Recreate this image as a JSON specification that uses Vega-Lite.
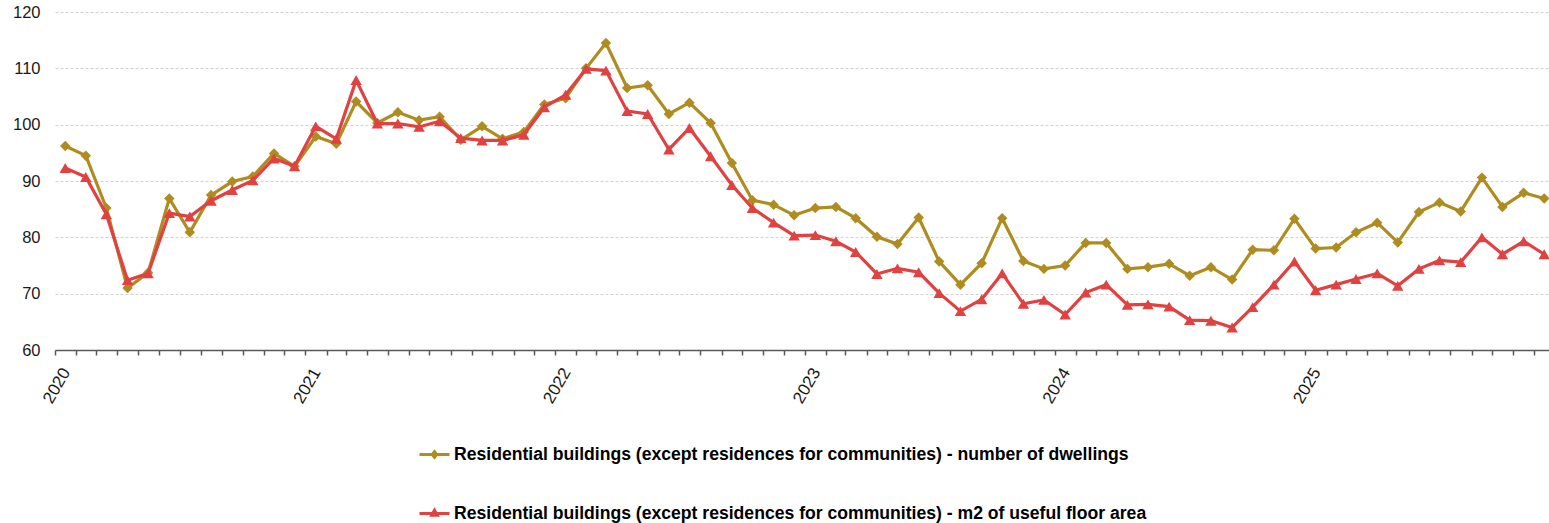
{
  "$schema": "https://vega.github.io/schema/vega-lite/v6.json",
  "autosize": "none",
  "width": 1494,
  "height": 338,
  "padding": {"left": 55, "top": 12, "right": 0, "bottom": 173},
  "background": "white",
  "config": {
    "view": {"stroke": null},
    "font": "Liberation Sans",
    "legend": {
      "orient": "none",
      "title": null,
      "labelFont": "Liberation Sans",
      "labelFontWeight": "bold",
      "labelFontSize": 17.6,
      "labelColor": "#000000",
      "labelLimit": 1200,
      "labelOffset": 3,
      "symbolSize": 900,
      "symbolStrokeWidth": 3,
      "symbolOpacity": 1
    }
  },
  "data": {
    "values": [
      {"date": "2020-01-16", "dwellings": 96.2, "m2": 92.3},
      {"date": "2020-02-15", "dwellings": 94.5, "m2": 90.7},
      {"date": "2020-03-16", "dwellings": 85.2, "m2": 84.1},
      {"date": "2020-04-16", "dwellings": 71.0, "m2": 72.4},
      {"date": "2020-05-16", "dwellings": 73.7, "m2": 73.6},
      {"date": "2020-06-16", "dwellings": 86.9, "m2": 84.3},
      {"date": "2020-07-16", "dwellings": 80.9, "m2": 83.7},
      {"date": "2020-08-16", "dwellings": 87.5, "m2": 86.5},
      {"date": "2020-09-16", "dwellings": 89.9, "m2": 88.4},
      {"date": "2020-10-16", "dwellings": 90.8, "m2": 90.1},
      {"date": "2020-11-16", "dwellings": 94.9, "m2": 94.0},
      {"date": "2020-12-16", "dwellings": 92.6, "m2": 92.6},
      {"date": "2021-01-16", "dwellings": 97.9, "m2": 99.7},
      {"date": "2021-02-15", "dwellings": 96.6, "m2": 97.5},
      {"date": "2021-03-16", "dwellings": 104.1, "m2": 107.9},
      {"date": "2021-04-16", "dwellings": 100.3, "m2": 100.2},
      {"date": "2021-05-16", "dwellings": 102.2, "m2": 100.2},
      {"date": "2021-06-16", "dwellings": 100.8, "m2": 99.6},
      {"date": "2021-07-16", "dwellings": 101.4, "m2": 100.6},
      {"date": "2021-08-16", "dwellings": 97.3, "m2": 97.6},
      {"date": "2021-09-16", "dwellings": 99.7, "m2": 97.2},
      {"date": "2021-10-16", "dwellings": 97.5, "m2": 97.2},
      {"date": "2021-11-16", "dwellings": 98.7, "m2": 98.2},
      {"date": "2021-12-16", "dwellings": 103.6, "m2": 103.1},
      {"date": "2022-01-16", "dwellings": 104.7, "m2": 105.3},
      {"date": "2022-02-15", "dwellings": 110.0, "m2": 109.9},
      {"date": "2022-03-16", "dwellings": 114.5, "m2": 109.6},
      {"date": "2022-04-16", "dwellings": 106.5, "m2": 102.4},
      {"date": "2022-05-16", "dwellings": 107.0, "m2": 101.9},
      {"date": "2022-06-16", "dwellings": 101.9, "m2": 95.6},
      {"date": "2022-07-16", "dwellings": 103.9, "m2": 99.4},
      {"date": "2022-08-16", "dwellings": 100.3, "m2": 94.4},
      {"date": "2022-09-16", "dwellings": 93.2, "m2": 89.3},
      {"date": "2022-10-16", "dwellings": 86.6, "m2": 85.2},
      {"date": "2022-11-16", "dwellings": 85.8, "m2": 82.6},
      {"date": "2022-12-16", "dwellings": 83.9, "m2": 80.3},
      {"date": "2023-01-16", "dwellings": 85.2, "m2": 80.4},
      {"date": "2023-02-15", "dwellings": 85.4, "m2": 79.3},
      {"date": "2023-03-16", "dwellings": 83.4, "m2": 77.4},
      {"date": "2023-04-16", "dwellings": 80.1, "m2": 73.5},
      {"date": "2023-05-16", "dwellings": 78.8, "m2": 74.5},
      {"date": "2023-06-16", "dwellings": 83.5, "m2": 73.8},
      {"date": "2023-07-16", "dwellings": 75.7, "m2": 70.1},
      {"date": "2023-08-16", "dwellings": 71.6, "m2": 66.9},
      {"date": "2023-09-16", "dwellings": 75.4, "m2": 69.0},
      {"date": "2023-10-16", "dwellings": 83.4, "m2": 73.6},
      {"date": "2023-11-16", "dwellings": 75.8, "m2": 68.2},
      {"date": "2023-12-16", "dwellings": 74.4, "m2": 68.9},
      {"date": "2024-01-16", "dwellings": 75.0, "m2": 66.3},
      {"date": "2024-02-15", "dwellings": 79.0, "m2": 70.2},
      {"date": "2024-03-16", "dwellings": 79.0, "m2": 71.6},
      {"date": "2024-04-16", "dwellings": 74.4, "m2": 68.0},
      {"date": "2024-05-16", "dwellings": 74.7, "m2": 68.1},
      {"date": "2024-06-16", "dwellings": 75.3, "m2": 67.7},
      {"date": "2024-07-16", "dwellings": 73.2, "m2": 65.3},
      {"date": "2024-08-16", "dwellings": 74.7, "m2": 65.2},
      {"date": "2024-09-16", "dwellings": 72.5, "m2": 64.0},
      {"date": "2024-10-16", "dwellings": 77.8, "m2": 67.6},
      {"date": "2024-11-16", "dwellings": 77.7, "m2": 71.6},
      {"date": "2024-12-16", "dwellings": 83.3, "m2": 75.7},
      {"date": "2025-01-16", "dwellings": 78.0, "m2": 70.6},
      {"date": "2025-02-15", "dwellings": 78.2, "m2": 71.6},
      {"date": "2025-03-16", "dwellings": 80.9, "m2": 72.6},
      {"date": "2025-04-16", "dwellings": 82.6, "m2": 73.6},
      {"date": "2025-05-16", "dwellings": 79.1, "m2": 71.4},
      {"date": "2025-06-16", "dwellings": 84.5, "m2": 74.4},
      {"date": "2025-07-16", "dwellings": 86.2, "m2": 75.9},
      {"date": "2025-08-16", "dwellings": 84.6, "m2": 75.6},
      {"date": "2025-09-16", "dwellings": 90.6, "m2": 80.0},
      {"date": "2025-10-16", "dwellings": 85.4, "m2": 77.0},
      {"date": "2025-11-16", "dwellings": 87.9, "m2": 79.3},
      {"date": "2025-12-16", "dwellings": 86.9, "m2": 77.0}
    ]
  },
  "transform": [
    {"fold": ["dwellings", "m2"], "as": ["series", "value"]}
  ],
  "encoding": {
    "x": {
      "field": "date",
      "type": "temporal",
      "scale": {
        "type": "utc",
        "domain": [
          {"year": 2020, "month": 1, "date": 1, "utc": true},
          {"year": 2025, "month": 12, "date": 23, "utc": true}
        ]
      },
      "axis": {
        "title": null,
        "grid": false,
        "tickCount": {"interval": "month", "step": 1},
        "labelExpr": "utcFormat(datum.value, '%m') == '01' ? utcFormat(datum.value, '%Y') : ''",
        "labelAngle": -60,
        "labelOverlap": false,
        "labelFlush": false,
        "labelOffset": 11,
        "labelPadding": 14,
        "labelFontSize": 17,
        "labelColor": "#1a1a1a",
        "domainColor": "#595959",
        "domainWidth": 1.5,
        "tickColor": "#595959",
        "tickWidth": 1.5,
        "tickSize": 5
      }
    },
    "y": {
      "field": "value",
      "type": "quantitative",
      "scale": {"domain": [60, 120], "nice": false, "zero": false},
      "axis": {
        "title": null,
        "values": [60, 70, 80, 90, 100, 110, 120],
        "domain": false,
        "ticks": false,
        "tickSize": 0,
        "labelPadding": 15,
        "labelFontSize": 16.5,
        "labelColor": "#1a1a1a",
        "gridColor": "#d0d0d0",
        "gridDash": [3, 2],
        "gridWidth": 1
      }
    }
  },
  "layer": [
    {
      "transform": [{"filter": "datum.series == 'dwellings'"}],
      "encoding": {
        "color": {
          "field": "series",
          "type": "nominal",
          "scale": {"domain": ["dwellings"], "range": ["#AE8C1F"]},
          "legend": {
            "legendX": 363,
            "legendY": 426,
            "symbolType": "M-1,0H1M0,-0.19L0.15,0L0,0.19L-0.15,0Z",
            "symbolFillColor": "#AE8C1F",
            "symbolStrokeColor": "#AE8C1F",
            "labelExpr": "'Residential buildings (except residences for communities) - number of dwellings'"
          }
        }
      },
      "layer": [
        {"mark": {"type": "line", "strokeWidth": 3.2}},
        {"mark": {"type": "point", "shape": "diamond", "filled": true, "opacity": 1, "size": 110}}
      ]
    },
    {
      "transform": [{"filter": "datum.series == 'm2'"}],
      "encoding": {
        "color": {
          "field": "series",
          "type": "nominal",
          "scale": {"domain": ["m2"], "range": ["#E04141"]},
          "legend": {
            "legendX": 363,
            "legendY": 485,
            "symbolType": "M-1,0H1M0,-0.22L0.19,0.12L-0.19,0.12Z",
            "symbolFillColor": "#E04141",
            "symbolStrokeColor": "#E04141",
            "labelExpr": "'Residential buildings (except residences for communities) -  m2 of useful floor area'"
          }
        }
      },
      "layer": [
        {"mark": {"type": "line", "strokeWidth": 3.2}},
        {"mark": {"type": "point", "shape": "triangle-up", "filled": true, "opacity": 1, "size": 130}}
      ]
    }
  ],
  "resolve": {"scale": {"color": "independent"}}
}
